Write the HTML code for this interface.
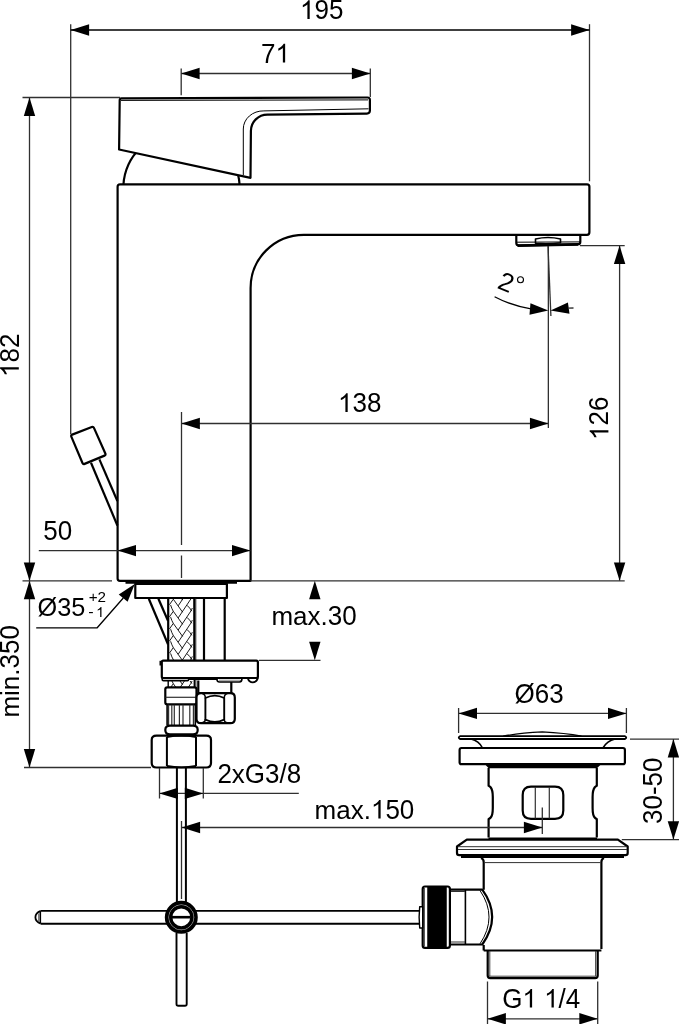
<!DOCTYPE html>
<html><head><meta charset="utf-8"><style>
html,body{margin:0;padding:0;background:#fff;}
svg{display:block;will-change:transform;}
text{font-family:"Liberation Sans",sans-serif;fill:#000;stroke:none;}
</style></head><body>
<svg width="679" height="1024" viewBox="0 0 679 1024" stroke="#000" stroke-linecap="butt" stroke-linejoin="round">
<rect width="679" height="1024" fill="#fff" stroke="none"/>
<clipPath id="cdome"><rect x="100" y="140" width="160" height="44.2"/></clipPath>
<circle cx="181.5" cy="189" r="58.2" fill="none" stroke-width="2.2" clip-path="url(#cdome)"/>
<path d="M 119.7 100.2 Q 119.7 98.4 121.5 98.35 L 367.5 97.5 Q 369.9 97.5 369.9 99.9 L 369.9 110.6 Q 369.9 113.6 366.9 113.6 L 267.4 114.6 A 16.5 16.5 0 0 0 250.9 131 L 250.5 177.8 L 119.1 149.5 Z" stroke-width="2.2" fill="#fff" />
<path d="M 121 100.4 L 368 99.9" stroke-width="1.0" fill="none" />
<path d="M 368.5 108.8 L 263.9 110.9 A 20 18 0 0 0 243.3 129 L 243.3 175" stroke-width="1.0" fill="none" />
<path d="M 120 184.3 L 587 184.3 Q 589.4 184.3 589.4 186.7 L 589.4 232.3 Q 589.4 234.8 587 234.8 L 303.9 234.8 A 53.2 53.2 0 0 0 250.6 288.0 L 250.6 580.85 L 120 580.85 Q 117.6 580.85 117.6 578.5 L 117.6 186.7 Q 117.6 184.3 120 184.3 Z" stroke-width="2.2" fill="#fff" />
<path d="M 516.3 234.6 L 516.3 243 Q 516.3 245.5 519 245.5 L 577.9 244.3 Q 580.3 244.2 580.3 242 L 580.3 234.6" stroke-width="2.2" fill="none" />
<path d="M 517.5 245.6 L 578 244.4" stroke-width="2.6" fill="none" />
<path d="M 517 242.2 L 580 241.9" stroke-width="1.0" fill="none" />
<path d="M 535.5 243.3 L 535.5 239 Q 548 236 560.5 239 L 560.5 242.8 Q 548 244.5 535.5 243.3 Z" stroke-width="1.6" fill="none" />
<path d="M 71.32 436.67 Q 70.70 435.20 72.19 434.62 L 91.81 426.98 Q 93.30 426.40 93.95 427.86 L 105.35 453.54 Q 106.00 455.00 104.52 455.61 L 84.58 463.89 Q 83.10 464.50 82.48 463.03 Z" stroke-width="2.2" fill="#fff" />
<line x1="91.0" y1="462.7" x2="117.4" y2="525.5" stroke-width="2.2"/>
<line x1="99.4" y1="459.4" x2="117.4" y2="501.0" stroke-width="2.2"/>
<line x1="125.5" y1="582.4" x2="237" y2="582.4" stroke-width="2.8"/>
<path d="M 135.3 583.9 L 226.9 583.9 L 226.9 598 L 135.3 598 Z" stroke-width="2.2" fill="none" />
<line x1="148.8" y1="598.7" x2="168" y2="644.3" stroke-width="2.2"/>
<line x1="158.4" y1="598.7" x2="168" y2="620.8" stroke-width="2.2"/>
<line x1="168.2" y1="598.7" x2="168.2" y2="660" stroke-width="2.2"/>
<line x1="194.3" y1="598.7" x2="194.3" y2="660" stroke-width="2.2"/>
<clipPath id="cbraid"><rect x="168.8" y="599" width="25" height="61"/></clipPath>
<path d="M 190.9 574.70 L 178.2 593.70 M 170.6 580.80 Q 171.8 584.60 173.3 587.10 L 182.6 600.10 M 187.0 581.10 Q 190 583.70 191.8 586.90 M 173.3 587.10 L 169.4 592.70 M 190.9 574.70 Q 191.7 573.20 192.3 571.70 M 190.9 586.80 L 178.2 605.80 M 170.6 592.90 Q 171.8 596.70 173.3 599.20 L 182.6 612.20 M 187.0 593.20 Q 190 595.80 191.8 599.00 M 173.3 599.20 L 169.4 604.80 M 190.9 586.80 Q 191.7 585.30 192.3 583.80 M 190.9 598.90 L 178.2 617.90 M 170.6 605.00 Q 171.8 608.80 173.3 611.30 L 182.6 624.30 M 187.0 605.30 Q 190 607.90 191.8 611.10 M 173.3 611.30 L 169.4 616.90 M 190.9 598.90 Q 191.7 597.40 192.3 595.90 M 190.9 611.00 L 178.2 630.00 M 170.6 617.10 Q 171.8 620.90 173.3 623.40 L 182.6 636.40 M 187.0 617.40 Q 190 620.00 191.8 623.20 M 173.3 623.40 L 169.4 629.00 M 190.9 611.00 Q 191.7 609.50 192.3 608.00 M 190.9 623.10 L 178.2 642.10 M 170.6 629.20 Q 171.8 633.00 173.3 635.50 L 182.6 648.50 M 187.0 629.50 Q 190 632.10 191.8 635.30 M 173.3 635.50 L 169.4 641.10 M 190.9 623.10 Q 191.7 621.60 192.3 620.10 M 190.9 635.20 L 178.2 654.20 M 170.6 641.30 Q 171.8 645.10 173.3 647.60 L 182.6 660.60 M 187.0 641.60 Q 190 644.20 191.8 647.40 M 173.3 647.60 L 169.4 653.20 M 190.9 635.20 Q 191.7 633.70 192.3 632.20 M 190.9 647.30 L 178.2 666.30 M 170.6 653.40 Q 171.8 657.20 173.3 659.70 L 182.6 672.70 M 187.0 653.70 Q 190 656.30 191.8 659.50 M 173.3 659.70 L 169.4 665.30 M 190.9 647.30 Q 191.7 645.80 192.3 644.30 M 190.9 659.40 L 178.2 678.40 M 170.6 665.50 Q 171.8 669.30 173.3 671.80 L 182.6 684.80 M 187.0 665.80 Q 190 668.40 191.8 671.60 M 173.3 671.80 L 169.4 677.40 M 190.9 659.40 Q 191.7 657.90 192.3 656.40 M 190.9 671.50 L 178.2 690.50 M 170.6 677.60 Q 171.8 681.40 173.3 683.90 L 182.6 696.90 M 187.0 677.90 Q 190 680.50 191.8 683.70 M 173.3 683.90 L 169.4 689.50 M 190.9 671.50 Q 191.7 670.00 192.3 668.50" stroke-width="0.9" fill="none" clip-path="url(#cbraid)"/>
<line x1="195.8" y1="598.7" x2="195.8" y2="660" stroke-width="1.0" stroke="#303030"/>
<line x1="204.0" y1="598.7" x2="204.0" y2="660" stroke-width="2.2"/>
<line x1="224.7" y1="598.7" x2="224.7" y2="660" stroke-width="2.2"/>
<clipPath id="cbraid2"><rect x="168.8" y="657" width="25" height="6.3"/></clipPath>
<path d="M 190.9 574.70 L 178.2 593.70 M 170.6 580.80 Q 171.8 584.60 173.3 587.10 L 182.6 600.10 M 187.0 581.10 Q 190 583.70 191.8 586.90 M 173.3 587.10 L 169.4 592.70 M 190.9 574.70 Q 191.7 573.20 192.3 571.70 M 190.9 586.80 L 178.2 605.80 M 170.6 592.90 Q 171.8 596.70 173.3 599.20 L 182.6 612.20 M 187.0 593.20 Q 190 595.80 191.8 599.00 M 173.3 599.20 L 169.4 604.80 M 190.9 586.80 Q 191.7 585.30 192.3 583.80 M 190.9 598.90 L 178.2 617.90 M 170.6 605.00 Q 171.8 608.80 173.3 611.30 L 182.6 624.30 M 187.0 605.30 Q 190 607.90 191.8 611.10 M 173.3 611.30 L 169.4 616.90 M 190.9 598.90 Q 191.7 597.40 192.3 595.90 M 190.9 611.00 L 178.2 630.00 M 170.6 617.10 Q 171.8 620.90 173.3 623.40 L 182.6 636.40 M 187.0 617.40 Q 190 620.00 191.8 623.20 M 173.3 623.40 L 169.4 629.00 M 190.9 611.00 Q 191.7 609.50 192.3 608.00 M 190.9 623.10 L 178.2 642.10 M 170.6 629.20 Q 171.8 633.00 173.3 635.50 L 182.6 648.50 M 187.0 629.50 Q 190 632.10 191.8 635.30 M 173.3 635.50 L 169.4 641.10 M 190.9 623.10 Q 191.7 621.60 192.3 620.10 M 190.9 635.20 L 178.2 654.20 M 170.6 641.30 Q 171.8 645.10 173.3 647.60 L 182.6 660.60 M 187.0 641.60 Q 190 644.20 191.8 647.40 M 173.3 647.60 L 169.4 653.20 M 190.9 635.20 Q 191.7 633.70 192.3 632.20 M 190.9 647.30 L 178.2 666.30 M 170.6 653.40 Q 171.8 657.20 173.3 659.70 L 182.6 672.70 M 187.0 653.70 Q 190 656.30 191.8 659.50 M 173.3 659.70 L 169.4 665.30 M 190.9 647.30 Q 191.7 645.80 192.3 644.30 M 190.9 659.40 L 178.2 678.40 M 170.6 665.50 Q 171.8 669.30 173.3 671.80 L 182.6 684.80 M 187.0 665.80 Q 190 668.40 191.8 671.60 M 173.3 671.80 L 169.4 677.40 M 190.9 659.40 Q 191.7 657.90 192.3 656.40 M 190.9 671.50 L 178.2 690.50 M 170.6 677.60 Q 171.8 681.40 173.3 683.90 L 182.6 696.90 M 187.0 677.90 Q 190 680.50 191.8 683.70 M 173.3 683.90 L 169.4 689.50 M 190.9 671.50 Q 191.7 670.00 192.3 668.50" stroke-width="0.9" fill="none" clip-path="url(#cbraid2)" transform="translate(0,24)"/>
<line x1="168.2" y1="680" x2="168.2" y2="687.3" stroke-width="1.4"/>
<line x1="194.3" y1="680" x2="194.3" y2="687.3" stroke-width="1.4"/>
<line x1="195.8" y1="680" x2="195.8" y2="687.3" stroke-width="1.2" stroke="#303030"/>
<path d="M 163.3 660.6 L 256.3 660.6 Q 257.9 660.6 257.9 662.2 L 257.9 676.5 Q 257.9 678 256.3 678 L 163.3 678 Q 161.8 678 161.8 676.5 L 161.8 662.2 Q 161.8 660.6 163.3 660.6 Z" stroke-width="2.2" fill="#fff" />
<line x1="160.3" y1="660.8" x2="160.3" y2="665.5" stroke-width="1.6"/>
<path d="M 162.2 677.5 L 162.2 679.5 Q 162.2 680.6 163.5 680.6 L 187.5 680.6 Q 188.6 680.6 188.6 679.5 L 188.6 678" stroke-width="1.6" fill="none" />
<line x1="188.6" y1="678.9" x2="217.5" y2="678.9" stroke-width="2.2"/>
<path d="M 216.8 678.3 Q 216.8 682 219.5 682 L 239.5 682 Q 242 682 242 678.3" stroke-width="1.6" fill="none" />
<line x1="219" y1="680.2" x2="240" y2="680.2" stroke-width="0.6" stroke="#303030"/>
<path d="M 247.8 678.2 Q 249 682.3 252.8 682.3 Q 256.8 682.3 257.9 677.8" stroke-width="1.8" fill="none" />
<path d="M 167.3 687.3 L 194.5 687.3 Q 196.5 687.3 196.5 689.3 L 196.5 702.5 Q 196.5 704.4 194.5 704.4 L 167.3 704.4 Q 165.3 704.4 165.3 702.5 L 165.3 689.3 Q 165.3 687.3 167.3 687.3 Z" stroke-width="2.2" fill="#fff" />
<line x1="165.5" y1="697.3" x2="196.3" y2="697.3" stroke-width="1.2" stroke="#303030"/>
<path d="M 167.1 704.4 L 167.1 725.3 M 195.3 704.4 L 195.3 725.3" stroke-width="1.6" fill="none" />
<line x1="168.6" y1="704.8" x2="168.6" y2="725" stroke-width="1.2" stroke="#303030"/>
<line x1="171.8" y1="704.8" x2="171.8" y2="725" stroke-width="1.2" stroke="#303030"/>
<line x1="174.3" y1="704.8" x2="174.3" y2="725" stroke-width="1.2" stroke="#303030"/>
<line x1="179.4" y1="704.8" x2="179.4" y2="725" stroke-width="1.2" stroke="#303030"/>
<line x1="183.0" y1="704.8" x2="183.0" y2="725" stroke-width="1.2" stroke="#303030"/>
<line x1="189.8" y1="704.8" x2="189.8" y2="725" stroke-width="1.2" stroke="#303030"/>
<line x1="193.4" y1="704.8" x2="193.4" y2="725" stroke-width="1.2" stroke="#303030"/>
<path d="M 170 725.6 L 193 725.6 Q 197.7 725.6 197.7 730 Q 197.7 734.4 193 734.4 L 170 734.4 Q 165.3 734.4 165.3 730 Q 165.3 725.6 170 725.6 Z" stroke-width="2.2" fill="#fff" />
<path d="M 198.3 680.5 L 198.3 693.2 L 231.3 693.2 L 231.3 682" stroke-width="2.2" fill="none" />
<path d="M 201 693.2 Q 196.5 693.2 196.5 697.5 L 196.5 719 Q 196.5 723.2 201 723.2 L 230.3 723.2 Q 234.8 723.2 234.8 719 L 234.8 697.5 Q 234.8 693.2 230.3 693.2 Z" stroke-width="2.2" fill="#fff" />
<path d="M 205.4 698 Q 214.8 693.2 224.2 698 M 205.4 697.5 L 205.4 720 M 224.2 697.5 L 224.2 720 M 205.4 719.6 Q 214.8 724.2 224.2 719.6" stroke-width="1.9" fill="none" />
<path d="M 202.2 693.6 Q 205.4 694.2 205.4 698.5 M 227.4 693.6 Q 224.2 694.2 224.2 698.5 M 202.2 722.8 Q 205.4 722.4 205.4 719 M 227.4 722.8 Q 224.2 722.4 224.2 719" stroke-width="1.5" fill="none" />
<path d="M 156.5 735.6 L 206.3 735.6 Q 211 735.6 211 740 L 211 763 Q 211 767.5 206.3 767.5 L 156.5 767.5 Q 151.7 767.5 151.7 763 L 151.7 740 Q 151.7 735.6 156.5 735.6 Z" stroke-width="2.2" fill="#fff" />
<path d="M 166.9 737 L 166.9 766 M 196 737 L 196 766" stroke-width="2.0" fill="none" />
<path d="M 166.9 737.0 Q 181.5 734.4 196 737.0 M 166.9 766.0 Q 181.5 768.6 196 766.0" stroke-width="1.8" fill="none" />
<line x1="176.9" y1="767" x2="176.9" y2="902" stroke-width="2.0"/>
<line x1="185.9" y1="767" x2="185.9" y2="902" stroke-width="2.0"/>
<path d="M 40.8 910.9 L 420 910.9 M 40.8 923.7 L 420 923.7" stroke-width="1.9" fill="none" />
<path d="M 40.8 910.9 Q 35.4 913 35.4 917.3 Q 35.4 921.6 40.8 923.7" stroke-width="1.8" fill="#fff" />
<line x1="40.3" y1="911.5" x2="40.3" y2="923.1" stroke-width="1.6"/>
<line x1="38.6" y1="913.5" x2="38.6" y2="921.1" stroke-width="0.7" stroke="#303030"/>
<path d="M 176.5 933 L 176.5 1004 Q 176.5 1005.8 178.3 1005.8 L 184.9 1005.8 Q 186.7 1005.8 186.7 1004 L 186.7 933" stroke-width="1.9" fill="none" />
<circle cx="181.3" cy="917.3" r="14.4" fill="#fff" stroke-width="4.2"/>
<circle cx="181.3" cy="917.3" r="12.5" fill="none" stroke="#fff" stroke-width="0.6"/>
<circle cx="181.3" cy="917.3" r="10.6" fill="#fff" stroke-width="3.4"/>
<line x1="172" y1="917.2" x2="190.6" y2="917.2" stroke-width="2.6"/>
<path d="M 460 736.2 L 625 736.2 Q 627.5 737.6 625 739 L 460 739 Q 457.5 737.6 460 736.2 Z" stroke-width="1.8" fill="#fff" />
<path d="M 503.2 736.2 Q 520 733 542.3 731.9 Q 565 733 581.5 736.2" stroke-width="1.4" fill="none" />
<path d="M 471 739 Q 479 741 482.2 747.5 M 615 739 Q 607 741 603.3 747.5" stroke-width="1.6" fill="none" />
<path d="M 461.5 748 L 623 748 Q 624.9 748 624.9 750 L 624.9 762.2 Q 624.9 764.2 623 764.2 L 461.5 764.2 Q 459.6 764.2 459.6 762.2 L 459.6 750 Q 459.6 748 461.5 748 Z" stroke-width="2.2" fill="#fff" />
<polygon points="485,764.2 601,764.2 597,768.3 488.6,768.3" fill="#000" stroke="none"/>
<path d="M 488.6 768 L 488.6 785.8 Q 489.6 786.2 490.6 787.3 Q 492.8 790 492.8 797 L 492.8 808 Q 492.8 815.5 490.6 817.6 Q 489.6 818.6 488.6 819 L 488.6 837.5 M 596.8 768 L 596.8 785.8 Q 595.8 786.2 594.8 787.3 Q 592.6 790 592.6 797 L 592.6 808 Q 592.6 815.5 594.8 817.6 Q 595.8 818.6 596.8 819 L 596.8 837.5" stroke-width="2.2" fill="none" />
<line x1="488.5" y1="838.8" x2="597" y2="838.8" stroke-width="2.4"/>
<path d="M 531 786.6 L 555 786.6 Q 563.3 786.6 563.3 795 L 563.3 810.5 Q 563.3 818.8 555 818.8 L 531 818.8 Q 522.7 818.8 522.7 810.5 L 522.7 795 Q 522.7 786.6 531 786.6 Z" stroke-width="2.2" fill="none" />
<line x1="535.3" y1="787" x2="535.3" y2="818.5" stroke-width="1.2" stroke="#303030"/>
<line x1="549.3" y1="787" x2="549.3" y2="818.5" stroke-width="1.2" stroke="#303030"/>
<path d="M 466.8 839.7 L 617.9 839.7 L 627.7 846.5 L 627.7 853 Q 627.7 855.1 625.5 855.1 L 459.2 855.1 Q 457 855.1 457 853 L 457 846.5 Z" stroke-width="2.2" fill="#fff" />
<line x1="458" y1="846.7" x2="627" y2="846.7" stroke-width="1.0" stroke="#303030"/>
<line x1="458" y1="849.5" x2="627" y2="849.5" stroke-width="1.0" stroke="#303030"/>
<line x1="461" y1="856.6" x2="624" y2="856.6" stroke-width="2.6"/>
<path d="M 481 858 Q 483.7 859 483.7 862 L 483.7 889.8 M 483.7 945 L 483.7 950.5 M 604 858 Q 601.4 859 601.4 862 L 601.4 949" stroke-width="2.2" fill="none" />
<line x1="484.5" y1="862.6" x2="600.5" y2="862.6" stroke-width="1.0" stroke="#303030"/>
<line x1="483.7" y1="950.5" x2="601.4" y2="950.5" stroke-width="2.2"/>
<path d="M 449.9 889.7 L 482.3 889.7 Q 502 917 482.3 944.5 L 449.9 944.5" stroke-width="2.2" fill="#fff" />
<path d="M 480 890.5 Q 498 917 480 943.8" stroke-width="1.0" fill="none" />
<line x1="465.4" y1="889.7" x2="465.4" y2="944.2" stroke-width="1.6"/>
<line x1="450" y1="891.5" x2="465" y2="891.5" stroke-width="1.0" stroke="#303030"/>
<line x1="450" y1="942" x2="465" y2="942" stroke-width="1.0" stroke="#303030"/>
<path d="M 425 886.5 L 447.5 886.5 Q 449.9 886.5 449.9 889 L 449.9 945.5 Q 449.9 947.9 447.5 947.9 L 425 947.9 Q 422.7 947.9 422.7 945.5 L 422.7 889 Q 422.7 886.5 425 886.5 Z" stroke-width="2.2" fill="#fff" />
<rect x="427.8" y="886.5" width="18.4" height="61.4" fill="#000"/>
<line x1="424.5" y1="888" x2="424.5" y2="946.5" stroke-width="0.8" stroke="#303030"/>
<path d="M 419.7 906.7 L 422.7 906.7 L 422.7 928 L 419.7 928 Q 418.5 917.3 419.7 906.7 Z" stroke-width="1.4" fill="#fff" />
<path d="M 487.7 950.5 L 487.7 975.5 Q 487.7 978.1 490.3 978.1 L 595.1 978.1 Q 597.7 978.1 597.7 975.5 L 597.7 950.5" stroke-width="2.2" fill="none" />
<line x1="489.8" y1="951" x2="489.8" y2="976" stroke-width="0.9" stroke="#303030"/>
<line x1="595.6" y1="951" x2="595.6" y2="976" stroke-width="0.9" stroke="#303030"/>
<line x1="489" y1="976.2" x2="596.5" y2="976.2" stroke-width="0.9" stroke="#303030"/>
<line x1="70.7" y1="24.2" x2="70.7" y2="434" stroke-width="1.3" stroke="#303030"/>
<line x1="589.5" y1="24.2" x2="589.5" y2="181.3" stroke-width="1.3" stroke="#303030"/>
<line x1="70.7" y1="30.0" x2="589.5" y2="30.0" stroke-width="1.3" stroke="#000"/>
<polygon points="70.70,30.00 89.10,24.30 89.10,35.70" fill="#000" stroke="none"/>
<polygon points="589.50,30.00 571.10,35.70 571.10,24.30" fill="#000" stroke="none"/>
<g transform="translate(300.0 19.0)"><path d="M763 0H583V1147Q518 1085 412.5 1023Q307 961 223 930V1104Q374 1175 487.5 1276Q601 1377 648 1472H763Z" transform="translate(0.000 0) scale(0.012695 -0.012695)" fill="#000" stroke="none"/><text x="0" y="0" font-size="27.070" transform="translate(14.460 0) scale(0.96046 1)">9</text><text x="0" y="0" font-size="27.070" transform="translate(28.920 0) scale(0.96046 1)">5</text></g>
<line x1="181.2" y1="68.5" x2="181.2" y2="95.3" stroke-width="1.3" stroke="#303030"/>
<line x1="370.3" y1="68.5" x2="370.3" y2="97" stroke-width="1.3" stroke="#303030"/>
<line x1="181.2" y1="73.5" x2="370.3" y2="73.5" stroke-width="1.3" stroke="#303030"/>
<polygon points="181.20,73.50 199.60,67.80 199.60,79.20" fill="#000" stroke="none"/>
<polygon points="370.30,73.50 351.90,79.20 351.90,67.80" fill="#000" stroke="none"/>
<g transform="translate(261.0 62.5)"><text x="0" y="0" font-size="27.070" transform="translate(0.000 0) scale(0.96046 1)">7</text><path d="M763 0H583V1147Q518 1085 412.5 1023Q307 961 223 930V1104Q374 1175 487.5 1276Q601 1377 648 1472H763Z" transform="translate(14.460 0) scale(0.012695 -0.012695)" fill="#000" stroke="none"/></g>
<line x1="22.5" y1="97.5" x2="120" y2="97.5" stroke-width="1.3" stroke="#303030"/>
<line x1="29.5" y1="97.5" x2="29.5" y2="767.5" stroke-width="1.3" stroke="#303030"/>
<polygon points="29.50,97.50 35.20,115.90 23.80,115.90" fill="#000" stroke="none"/>
<polygon points="29.50,580.85 23.80,562.45 35.20,562.45" fill="#000" stroke="none"/>
<polygon points="29.50,580.85 35.20,599.25 23.80,599.25" fill="#000" stroke="none"/>
<polygon points="29.50,767.50 23.80,749.10 35.20,749.10" fill="#000" stroke="none"/>
<line x1="22.5" y1="580.85" x2="112" y2="580.85" stroke-width="1.3" stroke="#303030"/>
<line x1="24" y1="767.5" x2="151" y2="767.5" stroke-width="1.3" stroke="#303030"/>
<g transform="translate(18.8 377.0) rotate(-90)"><path d="M763 0H583V1147Q518 1085 412.5 1023Q307 961 223 930V1104Q374 1175 487.5 1276Q601 1377 648 1472H763Z" transform="translate(0.000 0) scale(0.012695 -0.012695)" fill="#000" stroke="none"/><text x="0" y="0" font-size="27.070" transform="translate(14.460 0) scale(0.96046 1)">8</text><text x="0" y="0" font-size="27.070" transform="translate(28.920 0) scale(0.96046 1)">2</text></g>
<g transform="translate(18.7 717.6) rotate(-90)"><text x="0" y="0" font-size="25.519" transform="translate(0.000 0) scale(1.01883 1)">m</text><text x="0" y="0" font-size="25.519" transform="translate(21.658 0) scale(1.01883 1)">i</text><text x="0" y="0" font-size="25.519" transform="translate(27.435 0) scale(1.01883 1)">n</text><text x="0" y="0" font-size="26.000" transform="translate(41.895 0) scale(1.00000 1)">.</text><text x="0" y="0" font-size="27.070" transform="translate(49.118 0) scale(0.96046 1)">3</text><text x="0" y="0" font-size="27.070" transform="translate(63.578 0) scale(0.96046 1)">5</text><text x="0" y="0" font-size="27.070" transform="translate(78.038 0) scale(0.96046 1)">0</text></g>
<line x1="38.8" y1="550.6" x2="250.4" y2="550.6" stroke-width="1.3" stroke="#303030"/>
<polygon points="117.60,550.60 136.00,544.90 136.00,556.30" fill="#000" stroke="none"/>
<polygon points="250.40,550.60 232.00,556.30 232.00,544.90" fill="#000" stroke="none"/>
<g transform="translate(43.2 539.7)"><text x="0" y="0" font-size="27.070" transform="translate(0.000 0) scale(0.96046 1)">5</text><text x="0" y="0" font-size="27.070" transform="translate(14.460 0) scale(0.96046 1)">0</text></g>
<line x1="181.5" y1="412" x2="181.5" y2="545" stroke-width="1.3" stroke="#303030"/>
<line x1="181.5" y1="555.5" x2="181.5" y2="578" stroke-width="1.3" stroke="#303030"/>
<line x1="181.5" y1="423.5" x2="548.35" y2="423.5" stroke-width="1.3" stroke="#303030"/>
<polygon points="181.50,423.50 199.90,417.80 199.90,429.20" fill="#000" stroke="none"/>
<polygon points="548.35,423.50 529.95,429.20 529.95,417.80" fill="#000" stroke="none"/>
<g transform="translate(338.0 411.9)"><path d="M763 0H583V1147Q518 1085 412.5 1023Q307 961 223 930V1104Q374 1175 487.5 1276Q601 1377 648 1472H763Z" transform="translate(0.000 0) scale(0.012695 -0.012695)" fill="#000" stroke="none"/><text x="0" y="0" font-size="27.070" transform="translate(14.460 0) scale(0.96046 1)">3</text><text x="0" y="0" font-size="27.070" transform="translate(28.920 0) scale(0.96046 1)">8</text></g>
<line x1="548.35" y1="246" x2="548.35" y2="428" stroke-width="1.3" stroke="#303030"/>
<line x1="548.0" y1="246" x2="550.9" y2="316" stroke-width="1.3" stroke="#303030"/>
<path d="M 494.6 296.8 Q 511 305.5 531 308.9" stroke-width="1.3" fill="none" />
<polygon points="548.30,310.60 529.47,314.67 530.47,303.32" fill="#000" stroke="none"/>
<polygon points="550.50,310.60 567.93,302.39 569.51,313.68" fill="#000" stroke="none"/>
<line x1="568" y1="308.2" x2="573.5" y2="308.0" stroke-width="1.3" stroke="#303030"/>
<text x="0" y="0" font-size="26" text-anchor="middle" transform="translate(503.0 290.5) rotate(22)" >2</text>
<circle cx="520.5" cy="279.8" r="3.0" fill="none" stroke-width="1.1"/>
<line x1="580" y1="245.6" x2="624.7" y2="245.6" stroke-width="1.3" stroke="#303030"/>
<line x1="619.6" y1="245.6" x2="619.6" y2="580.85" stroke-width="1.3" stroke="#303030"/>
<polygon points="619.60,245.60 625.30,264.00 613.90,264.00" fill="#000" stroke="none"/>
<polygon points="619.60,580.85 613.90,562.45 625.30,562.45" fill="#000" stroke="none"/>
<line x1="250.4" y1="580.85" x2="624.7" y2="580.85" stroke-width="1.3" stroke="#303030"/>
<g transform="translate(608.4 440.0) rotate(-90)"><path d="M763 0H583V1147Q518 1085 412.5 1023Q307 961 223 930V1104Q374 1175 487.5 1276Q601 1377 648 1472H763Z" transform="translate(0.000 0) scale(0.012695 -0.012695)" fill="#000" stroke="none"/><text x="0" y="0" font-size="27.070" transform="translate(14.460 0) scale(0.96046 1)">2</text><text x="0" y="0" font-size="27.070" transform="translate(28.920 0) scale(0.96046 1)">6</text></g>
<polygon points="314.80,580.85 320.50,599.25 309.10,599.25" fill="#000" stroke="none"/>
<polygon points="314.80,660.20 309.10,641.80 320.50,641.80" fill="#000" stroke="none"/>
<line x1="259" y1="660.3" x2="320.5" y2="660.3" stroke-width="1.3" stroke="#303030"/>
<g transform="translate(271.4 625.0)"><text x="0" y="0" font-size="25.519" transform="translate(0.000 0) scale(1.01883 1)">m</text><text x="0" y="0" font-size="25.519" transform="translate(21.658 0) scale(1.01883 1)">a</text><text x="0" y="0" font-size="25.519" transform="translate(36.118 0) scale(1.01883 1)">x</text><text x="0" y="0" font-size="26.000" transform="translate(49.118 0) scale(1.00000 1)">.</text><text x="0" y="0" font-size="27.070" transform="translate(56.342 0) scale(0.96046 1)">3</text><text x="0" y="0" font-size="27.070" transform="translate(70.802 0) scale(0.96046 1)">0</text></g>
<polygon points="134.80,583.90 127.59,601.76 118.75,594.56" fill="#000" stroke="none"/>
<polyline points="123.3,598 97.2,627.8 36.2,627.8" stroke-width="1.3" fill="none"/>
<g transform="translate(37.6 616.4)"><text x="0" y="0" font-size="26.341" transform="translate(0.000 0) scale(0.96046 1)">Ø</text><text x="0" y="0" font-size="26.341" transform="translate(19.679 0) scale(0.96046 1)">3</text><text x="0" y="0" font-size="26.341" transform="translate(33.750 0) scale(0.96046 1)">5</text></g>
<g transform="translate(88.7 601.8) scale(1.12 1)"><text x="0" y="0" font-size="14.160" transform="translate(0.000 0) scale(0.96046 1)">+</text><text x="0" y="0" font-size="14.160" transform="translate(7.942 0) scale(0.96046 1)">2</text></g>
<g transform="translate(88.2 617.0) scale(1.15 1)"><text x="0" y="0" font-size="14.680" transform="translate(0.000 0) scale(0.96046 1)">-</text></g>
<g transform="translate(96.2 617.1)"><path d="M763 0H583V1147Q518 1085 412.5 1023Q307 961 223 930V1104Q374 1175 487.5 1276Q601 1377 648 1472H763Z" transform="translate(0.000 0) scale(0.006885 -0.006885)" fill="#000" stroke="none"/></g>
<line x1="159.5" y1="768" x2="159.5" y2="798.5" stroke-width="1.3" stroke="#303030"/>
<line x1="203.3" y1="768" x2="203.3" y2="798.5" stroke-width="1.3" stroke="#303030"/>
<line x1="159.5" y1="793.3" x2="298.8" y2="793.3" stroke-width="1.3" stroke="#303030"/>
<polygon points="159.40,793.40 177.80,787.70 177.80,799.10" fill="#000" stroke="none"/>
<polygon points="203.20,793.40 184.80,799.10 184.80,787.70" fill="#000" stroke="none"/>
<g transform="translate(217.4 782.8)"><text x="0" y="0" font-size="27.070" transform="translate(0.000 0) scale(0.96046 1)">2</text><text x="0" y="0" font-size="25.519" transform="translate(14.460 0) scale(1.01883 1)">x</text><text x="0" y="0" font-size="27.070" transform="translate(27.460 0) scale(0.96046 1)">G</text><text x="0" y="0" font-size="27.070" transform="translate(47.684 0) scale(0.96046 1)">3</text><text x="0" y="0" font-size="27.070" transform="translate(62.144 0) scale(0.96046 1)">/</text><text x="0" y="0" font-size="27.070" transform="translate(69.367 0) scale(0.96046 1)">8</text></g>
<line x1="181.5" y1="821" x2="181.5" y2="899" stroke-width="1.3" stroke="#303030"/>
<line x1="542.3" y1="807.6" x2="542.3" y2="834" stroke-width="1.3" stroke="#303030"/>
<line x1="181.5" y1="827.5" x2="542.3" y2="827.5" stroke-width="1.3" stroke="#303030"/>
<polygon points="181.70,827.50 200.10,821.80 200.10,833.20" fill="#000" stroke="none"/>
<polygon points="542.30,827.50 523.90,833.20 523.90,821.80" fill="#000" stroke="none"/>
<g transform="translate(314.6 818.6)"><text x="0" y="0" font-size="25.519" transform="translate(0.000 0) scale(1.01883 1)">m</text><text x="0" y="0" font-size="25.519" transform="translate(21.658 0) scale(1.01883 1)">a</text><text x="0" y="0" font-size="25.519" transform="translate(36.118 0) scale(1.01883 1)">x</text><text x="0" y="0" font-size="26.000" transform="translate(49.118 0) scale(1.00000 1)">.</text><path d="M763 0H583V1147Q518 1085 412.5 1023Q307 961 223 930V1104Q374 1175 487.5 1276Q601 1377 648 1472H763Z" transform="translate(56.342 0) scale(0.012695 -0.012695)" fill="#000" stroke="none"/><text x="0" y="0" font-size="27.070" transform="translate(70.802 0) scale(0.96046 1)">5</text><text x="0" y="0" font-size="27.070" transform="translate(85.262 0) scale(0.96046 1)">0</text></g>
<line x1="458.6" y1="708" x2="458.6" y2="733" stroke-width="1.3" stroke="#303030"/>
<line x1="626.4" y1="708" x2="626.4" y2="733" stroke-width="1.3" stroke="#303030"/>
<line x1="458.6" y1="713.4" x2="626.4" y2="713.4" stroke-width="1.3" stroke="#303030"/>
<polygon points="458.60,713.40 477.00,707.70 477.00,719.10" fill="#000" stroke="none"/>
<polygon points="626.40,713.40 608.00,719.10 608.00,707.70" fill="#000" stroke="none"/>
<g transform="translate(514.5 702.5)"><text x="0" y="0" font-size="27.070" transform="translate(0.000 0) scale(0.96046 1)">Ø</text><text x="0" y="0" font-size="27.070" transform="translate(20.224 0) scale(0.96046 1)">6</text><text x="0" y="0" font-size="27.070" transform="translate(34.684 0) scale(0.96046 1)">3</text></g>
<line x1="630" y1="739.1" x2="679" y2="739.1" stroke-width="1.3" stroke="#303030"/>
<line x1="621.8" y1="839.6" x2="679" y2="839.6" stroke-width="1.3" stroke="#303030"/>
<line x1="673.4" y1="739.1" x2="673.4" y2="839.6" stroke-width="1.3" stroke="#303030"/>
<polygon points="673.40,739.10 679.10,757.50 667.70,757.50" fill="#000" stroke="none"/>
<polygon points="673.40,839.60 667.70,821.20 679.10,821.20" fill="#000" stroke="none"/>
<g transform="translate(662.4 824.0) rotate(-90)"><text x="0" y="0" font-size="27.070" transform="translate(0.000 0) scale(0.96046 1)">3</text><text x="0" y="0" font-size="27.070" transform="translate(14.460 0) scale(0.96046 1)">0</text><text x="0" y="0" font-size="27.070" transform="translate(28.920 0) scale(0.96046 1)">-</text><text x="0" y="0" font-size="27.070" transform="translate(37.578 0) scale(0.96046 1)">5</text><text x="0" y="0" font-size="27.070" transform="translate(52.038 0) scale(0.96046 1)">0</text></g>
<line x1="487.5" y1="981.5" x2="487.5" y2="1024" stroke-width="1.3" stroke="#303030"/>
<line x1="597.7" y1="981.5" x2="597.7" y2="1024" stroke-width="1.3" stroke="#303030"/>
<line x1="487.5" y1="1018.8" x2="597.7" y2="1018.8" stroke-width="1.3" stroke="#303030"/>
<polygon points="487.50,1018.80 505.90,1013.10 505.90,1024.50" fill="#000" stroke="none"/>
<polygon points="597.70,1018.80 579.30,1024.50 579.30,1013.10" fill="#000" stroke="none"/>
<g transform="translate(502.2 1007.6)"><text x="0" y="0" font-size="27.070" transform="translate(0.000 0) scale(0.96046 1)">G</text><path d="M763 0H583V1147Q518 1085 412.5 1023Q307 961 223 930V1104Q374 1175 487.5 1276Q601 1377 648 1472H763Z" transform="translate(20.224 0) scale(0.012695 -0.012695)" fill="#000" stroke="none"/><path d="M763 0H583V1147Q518 1085 412.5 1023Q307 961 223 930V1104Q374 1175 487.5 1276Q601 1377 648 1472H763Z" transform="translate(41.907 0) scale(0.012695 -0.012695)" fill="#000" stroke="none"/><text x="0" y="0" font-size="27.070" transform="translate(56.367 0) scale(0.96046 1)">/</text><text x="0" y="0" font-size="27.070" transform="translate(63.591 0) scale(0.96046 1)">4</text></g>
</svg>
</body></html>
